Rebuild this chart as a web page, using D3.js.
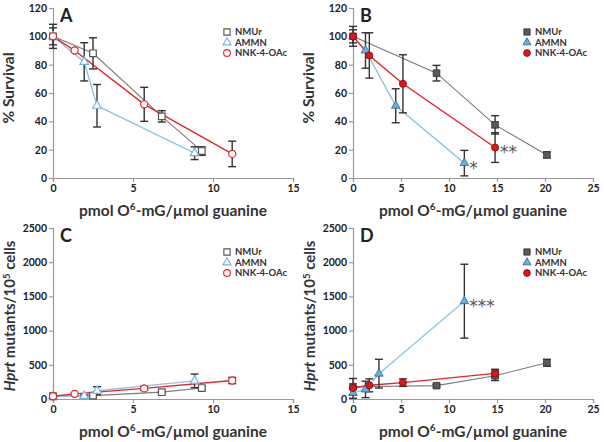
<!DOCTYPE html>
<html>
<head>
<meta charset="utf-8">
<script src="https://cdn.jsdelivr.net/npm/d3@7"></script>
<style>
  body { margin: 0; background: #fff; }
  svg text { font-family: Lato, "Open Sans", sans-serif; }
</style>
</head>
<body>
<div id="chart"></div>
<script>
// ---- data ----
const seriesNames = ['NMUr', 'AMMN', 'NNK-4-OAc'];

// panel A: % survival, open symbols
const aNmurX = [0, 2.5, 6.8, 9.3];
const aNmurY = [100, 88, 43.5, 19];
const aNmurErr = [8.5, 11, 4, 3];
const aAmmnX = [0, 1.95, 2.75, 8.85];
const aAmmnY = [100, 82, 51, 17.5];
const aAmmnErr = [6, 13.5, 15, 4.5];
const aNnkX = [0, 1.35, 5.7, 11.2];
const aNnkY = [100, 90, 52, 17];
const aNnkErr = [0, 0, 12, 9];

// panel B: % survival, filled symbols
const bNmurX = [0, 8.7, 14.8, 20.2];
const bNmurY = [100, 74, 37.5, 16.3];
const bNmurErr = [7, 5.5, 6.5, 2];
const bAmmnX = [0, 1.3, 4.45, 11.6];
const bAmmnY = [100, 90, 51, 10.5];
const bAmmnErr = [4.6, 12.5, 12, 9];
const bNnkX = [0, 1.7, 5.2, 14.8];
const bNnkY = [100, 86.5, 66.5, 21.5];
const bNnkErr = [0, 16, 20.5, 10.5];

// panel C: Hprt mutants, open symbols
const cNmurX = [0, 2.5, 6.8, 9.3];
const cNmurY = [40, 50, 100, 160];
const cNmurErr = [20, 15, 15, 20];
const cAmmnX = [0, 1.95, 2.75, 8.85];
const cAmmnY = [40, 45, 120, 265];
const cAmmnErr = [20, 15, 60, 100];
const cNnkX = [0, 1.35, 5.7, 11.2];
const cNnkY = [40, 75, 155, 270];
const cNnkErr = [15, 0, 30, 45];

// panel D: Hprt mutants, filled symbols
const dNmurX = [0, 8.7, 14.8, 20.2];
const dNmurY = [180, 195, 340, 530];
const dNmurErr = [120, 20, 70, 50];
const dAmmnX = [0, 1.3, 2.7, 11.6];
const dAmmnY = [90, 140, 370, 1430];
const dAmmnErr = [80, 120, 210, 540];
const dNnkX = [0, 1.7, 5.2, 14.8];
const dNnkY = [160, 200, 240, 375];
const dNnkErr = [0, 95, 55, 60];

const survivalTicks = [0, 20, 40, 60, 80, 100, 120];
const mutantTicks = [0, 500, 1000, 1500, 2000, 2500];
const xTicksShort = [0, 5, 10, 15];
const xTicksLong = [0, 5, 10, 15, 20, 25];

const W = 604, H = 442;
const svg = d3.select('#chart').append('svg')
    .attr('width', W)
    .attr('height', H);

const colors = {
  line: ['#7a7a7a', '#92c5e6', '#e3242b'],
  open: ['#555555', '#74b3e2', '#e3242b'],
  fill: ['#5a5a5a', '#6aaee0', '#e5141b'],
  edge: ['#2e2e2e', '#2f6790', '#7a0a0a']
};
const shapes = [d3.symbolSquare, d3.symbolTriangle, d3.symbolCircle];
const sizes = [44, 32, 40];

function zip(xs, ys, es) {
  return xs.map((x, i) => ({x: x, y: ys[i], e: es[i]}));
}

function panel(opts) {
  const g = svg.append('g')
      .attr('transform', `translate(${opts.left},0)`);

  const x = d3.scaleLinear().domain([0, opts.xMax]).range([0, 240]);
  const y = d3.scaleLinear().domain([0, opts.yMax]).range([opts.bottom, opts.top]);

  // axes
  const xa = g.append('g')
      .attr('transform', `translate(0,${opts.bottom})`)
      .call(d3.axisBottom(x).tickValues(opts.xTicks).tickFormat(d3.format('d')).tickSize(4).tickPadding(3));
  const ya = g.append('g')
      .call(d3.axisLeft(y).tickValues(opts.yTicks).tickFormat(d3.format('d')).tickSize(4).tickPadding(2));
  [xa, ya].forEach(a => {
    a.select('.domain').attr('stroke', '#9a9a9a').attr('stroke-width', 1.2);
    a.selectAll('.tick line').attr('stroke', '#9a9a9a').attr('stroke-width', 1.2);
    a.selectAll('.tick text')
      .attr('fill', '#222')
      .style('font-family', 'Lato, sans-serif')
      .style('font-weight', 'bold')
      .style('font-size', '10.5px');
  });

  // series
  opts.series.forEach((s, k) => {
    g.append('path')
      .datum(s)
      .attr('fill', 'none')
      .attr('stroke', colors.line[k])
      .attr('stroke-width', k === 0 ? 1.1 : 1.4)
      .attr('d', d3.line().x(d => x(d.x)).y(d => y(d.y)));
  });
  opts.series.forEach((s, k) => {
    const eb = g.append('g').attr('stroke', '#333').attr('stroke-width', 1.4);
    s.filter(d => d.e > 0).forEach(d => {
      const cx = x(d.x), y1 = y(d.y + d.e), y0 = y(d.y - d.e);
      eb.append('line').attr('x1', cx).attr('x2', cx).attr('y1', y1).attr('y2', y0);
      eb.append('line').attr('x1', cx - 4).attr('x2', cx + 4).attr('y1', y1).attr('y2', y1);
      eb.append('line').attr('x1', cx - 4).attr('x2', cx + 4).attr('y1', y0).attr('y2', y0);
    });
  });
  opts.series.forEach((s, k) => {
    g.selectAll(null)
      .data(s)
      .join('path')
      .attr('transform', d => `translate(${x(d.x)},${y(d.y)})`)
      .attr('d', d3.symbol().type(shapes[k]).size(sizes[k]))
      .attr('fill', opts.filled ? colors.fill[k] : '#fff')
      .attr('stroke', opts.filled ? colors.edge[k] : colors.open[k])
      .attr('stroke-width', opts.filled ? 0.8 : 1.2);
  });

  // legend
  const lg = g.append('g').attr('transform', `translate(174,${opts.top + 24})`);
  seriesNames.forEach((name, k) => {
    lg.append('path')
      .attr('transform', `translate(0,${k * 10.5})`)
      .attr('d', d3.symbol().type(shapes[k]).size(sizes[k] * 0.9))
      .attr('fill', opts.filled ? colors.fill[k] : '#fff')
      .attr('stroke', opts.filled ? colors.edge[k] : colors.open[k])
      .attr('stroke-width', opts.filled ? 0.8 : 1.1);
    lg.append('text')
      .attr('x', 8)
      .attr('y', k * 10.5)
      .attr('dy', '0.35em')
      .attr('fill', '#333')
      .style('font-size', '9.5px')
      .style('font-weight', 'bold')
      .text(name);
  });

  // panel letter
  g.append('text')
    .attr('x', 7)
    .attr('y', opts.top + 14)
    .attr('fill', '#222')
    .style('font-size', '18px')
    .style('font-weight', 'bold')
    .text(opts.letter);

  // x title
  const xt = g.append('text')
    .attr('x', 120)
    .attr('y', opts.bottom + 38)
    .attr('text-anchor', 'middle')
    .attr('fill', '#333')
    .style('font-size', '15.5px')
    .style('font-weight', 'bold');
  xt.append('tspan').text('pmol O');
  xt.append('tspan').attr('dy', -6).style('font-size', '10px').text('6');
  xt.append('tspan').attr('dy', 6).text('-mG/\u00b5mol guanine');

  // y title
  const yt = g.append('text')
    .attr('transform', `translate(${opts.yTitleX},${opts.yTitleY}) rotate(-90)`)
    .attr('text-anchor', 'middle')
    .attr('fill', '#333')
    .style('font-weight', 'bold');
  if (opts.survival) {
    yt.style('font-size', '15.5px').text('% Survival');
  } else {
    yt.style('font-size', '15px');
    yt.append('tspan').style('font-style', 'italic').text('Hprt');
    yt.append('tspan').text(' mutants/10');
    yt.append('tspan').attr('dy', -5).style('font-size', '9.5px').text('5');
    yt.append('tspan').attr('dy', 5).text(' cells');
  }

  // significance marks
  (opts.marks || []).forEach(m => {
    g.append('text')
      .attr('x', x(m.x) + 5)
      .attr('y', y(m.y))
      .attr('dy', '0.62em')
      .attr('fill', '#555')
      .style('font-size', '17px')
      .style('font-family', '"DejaVu Sans", sans-serif')
      .text(m.t);
  });
  return g;
}

panel({
  letter: 'A', left: 53, top: 8, bottom: 178, xMax: 15, yMax: 120,
  xTicks: xTicksShort, yTicks: survivalTicks, survival: true, filled: false,
  yTitleX: -39, yTitleY: 88,
  series: [zip(aNmurX, aNmurY, aNmurErr), zip(aAmmnX, aAmmnY, aAmmnErr), zip(aNnkX, aNnkY, aNnkErr)]
});
panel({
  letter: 'B', left: 353, top: 8, bottom: 178, xMax: 25, yMax: 120,
  xTicks: xTicksLong, yTicks: survivalTicks, survival: true, filled: true,
  yTitleX: -39, yTitleY: 88,
  series: [zip(bNmurX, bNmurY, bNmurErr), zip(bAmmnX, bAmmnY, bAmmnErr), zip(bNnkX, bNnkY, bNnkErr)],
  marks: [{x: bAmmnX[3], y: bAmmnY[3], t: '*'}, {x: bNnkX[3], y: bNnkY[3], t: '**'}]
});
panel({
  letter: 'C', left: 53, top: 228, bottom: 399, xMax: 15, yMax: 2500,
  xTicks: xTicksShort, yTicks: mutantTicks, survival: false, filled: false,
  yTitleX: -38, yTitleY: 316,
  series: [zip(cNmurX, cNmurY, cNmurErr), zip(cAmmnX, cAmmnY, cAmmnErr), zip(cNnkX, cNnkY, cNnkErr)]
});
panel({
  letter: 'D', left: 353, top: 228, bottom: 399, xMax: 25, yMax: 2500,
  xTicks: xTicksLong, yTicks: mutantTicks, survival: false, filled: true,
  yTitleX: -38, yTitleY: 316,
  series: [zip(dNmurX, dNmurY, dNmurErr), zip(dAmmnX, dAmmnY, dAmmnErr), zip(dNnkX, dNnkY, dNnkErr)],
  marks: [{x: dAmmnX[3], y: dAmmnY[3], t: '***'}]
});
</script>
</body>
</html>
